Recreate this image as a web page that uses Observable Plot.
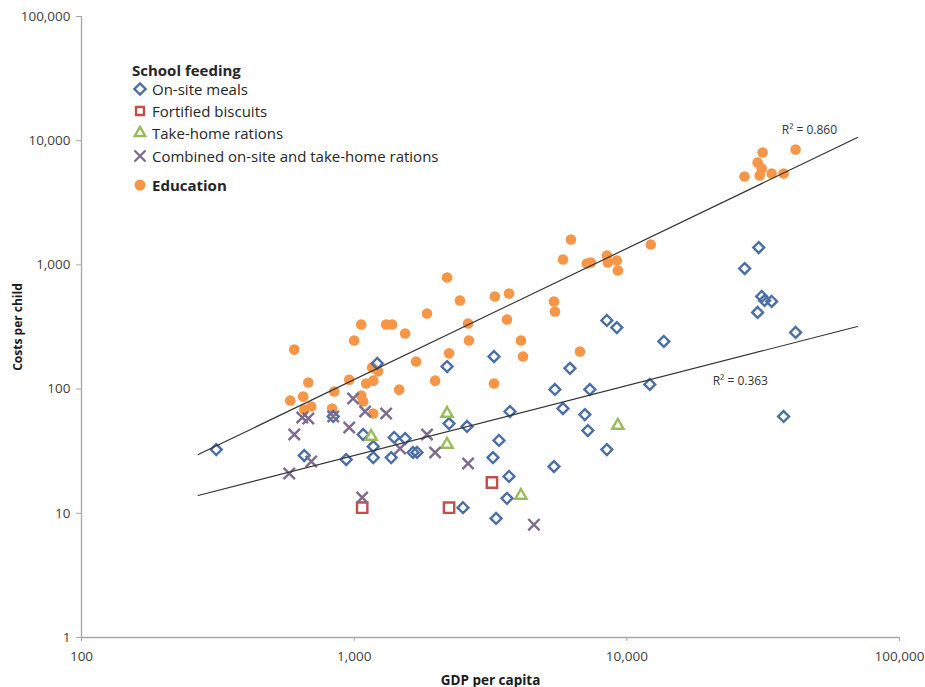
<!DOCTYPE html>
<html><head><meta charset="utf-8">
<script src="https://cdn.jsdelivr.net/npm/d3@7"></script>
<script src="https://cdn.jsdelivr.net/npm/@observablehq/plot@0.6"></script>
<style>
body{margin:0;background:#fff;}
#wrap{position:relative;width:925px;height:687px;font-family:"Open Sans",sans-serif;}
#legend{position:absolute;left:0;top:0;width:925px;height:687px;pointer-events:none;}
.row{position:absolute;left:132px;height:20px;line-height:20px;font-size:15px;color:#262626;white-space:nowrap;display:flex;align-items:center;}
.row svg{width:16px;height:16px;margin-right:4px;}
.bold{font-weight:bold;}
[aria-label="x-axis label"], [aria-label="y-axis label"]{font-weight:bold;fill:#1a1a1a;}
[aria-label="y-axis label"]{font-size:12px;}
</style></head><body><div id="wrap"><div id="chart"></div><div id="legend"></div></div>
<script>
// ---- Data (GDP per capita, cost per child) ----
const onsiteGDP  = [312,656,935,838,1079,1175,1175,1215,1402,1538,1367,1644,1701,2191,2228,2594,3229,3398,3257,3727,3698,3634,2507,3315,5448,5404,5831,6186,7016,7194,7318,8448,8448,9189,12140,13670,27050,30460,31240,32000,33970,30170,41590,37580];
const onsiteCost = [32.6,29.2,27.1,60.2,43.1,34.5,28.1,161,40.8,40.0,28.1,30.9,30.9,152,52.8,50.0,28.1,38.6,183,66,19.8,13.2,11.1,9.1,99.3,23.8,69.8,147,62.4,46.4,99.3,32.6,357,313,109,242,935,1380,557,517,508,414,286,60.2];

const biscuitGDP  = [1070,2228,3201];
const biscuitCost = [11.1,11.1,17.7];

const takeHomeGDP  = [1154,2191,2191,4089,9270];
const takeHomeCost = [41.5,63.6,35.8,13.9,50.9];

const combinedGDP  = [578,603,645,679,696,838,959,991,1097,1070,1310,1474,1850,1981,2616,4564];
const combinedCost = [20.9,43.1,59.1,58,26.1,60.2,49.1,84,66,13.4,63.6,33.2,43.1,30.9,25.2,8.1];

const educationGDP  = [603,583,650,656,696,679,830,845,959,1000,1061,1079,1107,1175,1164,1224,1175,1061,1310,1378,1538,1462,1687,1850,2191,2228,1981,2443,2616,2636,3281,3698,3634,3257,4089,4160,5404,5448,6731,5831,6237,7135,7380,8448,8517,9189,9270,12240,27000,30170,31240,31480,30710,33970,37580,41590];
const educationCost = [208,81,87,68.5,72.4,113,69.8,95.7,119,246,88.8,79.5,111,117,149,139,63.6,331,331,331,280,99,167,406,792,194,117,517,337,246,557,589,363,111,246,183,508,421,201,1105,1602,1026,1045,1191,1045,1084,901,1460,5150,6670,5970,8040,5250,5450,5450,8490];

// Trend lines (power fits)
const trendGDP        = [268, 70100];
const educationTrend  = [29.7, 10600];
const feedingTrend    = [13.9, 319];
const r2Labels = ["R² = 0.860", "R² = 0.363"];
const r2GDP    = [37000, 20650];
const r2Cost   = [12080, 115];

const xTicks = [100, 1000, 10000, 100000];
const yTicks = [1, 10, 100, 1000, 10000, 100000];

const legendTitle = "School feeding";
const legendItems = ["On-site meals","Fortified biscuits","Take-home rations","Combined on-site and take-home rations","Education"];

// ---- Build tables ----
const zip = (xs, ys) => xs.map((x, i) => ({gdp: x, cost: ys[i]}));
const onsite = zip(onsiteGDP, onsiteCost);
const biscuit = zip(biscuitGDP, biscuitCost);
const takeHome = zip(takeHomeGDP, takeHomeCost);
const combined = zip(combinedGDP, combinedCost);
const education = zip(educationGDP, educationCost);
const eduLine = zip(trendGDP, educationTrend);
const feedLine = zip(trendGDP, feedingTrend);
const r2 = r2Labels.map((t, i) => ({text: t, gdp: r2GDP[i], cost: r2Cost[i]}));

const C = {onsite:"#4a6fa5", biscuit:"#c0504d", take:"#9bbb59", comb:"#7d6a8e", edu:"#f79646"};
const fmt = d3.format(",");

const plot = Plot.plot({
  width: 925, height: 687,
  marginLeft: 81, marginRight: 26, marginTop: 16, marginBottom: 50,
  style: {fontFamily: "Open Sans, sans-serif", fontSize: "13.5px", background: "#fff", color: "#404040"},
  x: {type: "log", domain: [100, 100000]},
  y: {type: "log", domain: [1, 100000]},
  marks: [
    Plot.ruleX([100], {stroke: "#a6a6a6", strokeWidth: 1.3}),
    Plot.ruleY([1], {stroke: "#a6a6a6", strokeWidth: 1.3}),
    Plot.axisX(xTicks, {tickFormat: fmt, tickSize: 4, tickPadding: 10, stroke: "#a6a6a6", fill: "#404040",
      label: "GDP per capita", labelAnchor: "center", labelOffset: 47, labelArrow: "none"}),
    Plot.axisY(yTicks, {tickFormat: fmt, tickSize: 5, tickPadding: 6, stroke: "#a6a6a6", fill: "#404040",
      label: "Costs per child", labelAnchor: "center", labelOffset: 68, labelArrow: "none"}),
    Plot.dot(education, {x: "gdp", y: "cost", r: 5.3, fill: C.edu, stroke: null}),
    Plot.dot(onsite, {x: "gdp", y: "cost", symbol: "diamond2", r: 4.9, stroke: C.onsite, strokeWidth: 2.4, fill: "none"}),
    Plot.dot(biscuit, {x: "gdp", y: "cost", symbol: "square2", r: 6.6, stroke: C.biscuit, strokeWidth: 2.4, fill: "none"}),
    Plot.dot(takeHome, {x: "gdp", y: "cost", symbol: "triangle2", r: 5.4, stroke: C.take, strokeWidth: 2.4, fill: "none"}),
    Plot.dot(combined, {x: "gdp", y: "cost", symbol: "times", r: 5.2, stroke: C.comb, strokeWidth: 2.4}),
    Plot.line(eduLine, {x: "gdp", y: "cost", stroke: "#333", strokeWidth: 1.2}),
    Plot.line(feedLine, {x: "gdp", y: "cost", stroke: "#333", strokeWidth: 1.2}),
    Plot.text(r2, {x: "gdp", y: "cost", text: "text", textAnchor: "start", fontSize: 12, fill: "#333"})
  ]
});
document.getElementById("chart").appendChild(plot);

// ---- Legend (overlaid, top-left) ----
const leg = document.getElementById("legend");
const sym = (type, color, filled) => {
  const s = d3.symbol().type(type).size(type === d3.symbolCircle ? 95 : 80)();
  return `<svg viewBox="-8 -8 16 16"><path d="${s}" fill="${filled ? color : "none"}" stroke="${filled ? "none" : color}" stroke-width="2.4"/></svg>`;
};
const symbols = [
  [d3.symbolDiamond2, C.onsite, false],
  [d3.symbolSquare2, C.biscuit, false],
  [d3.symbolTriangle2, C.take, false],
  [d3.symbolTimes, C.comb, false],
  [d3.symbolCircle, C.edu, true]
];
const rowsY = [89, 111, 133, 156, 185];
let html = `<div class="row bold" style="top:${70-10}px">${legendTitle}</div>`;
legendItems.forEach((t, i) => {
  const [ty, col, f] = symbols[i];
  html += `<div class="row${i === 4 ? " bold" : ""}" style="top:${rowsY[i]-10}px">${sym(ty, col, f)}${t}</div>`;
});
leg.innerHTML = html;
</script>
</body></html>
